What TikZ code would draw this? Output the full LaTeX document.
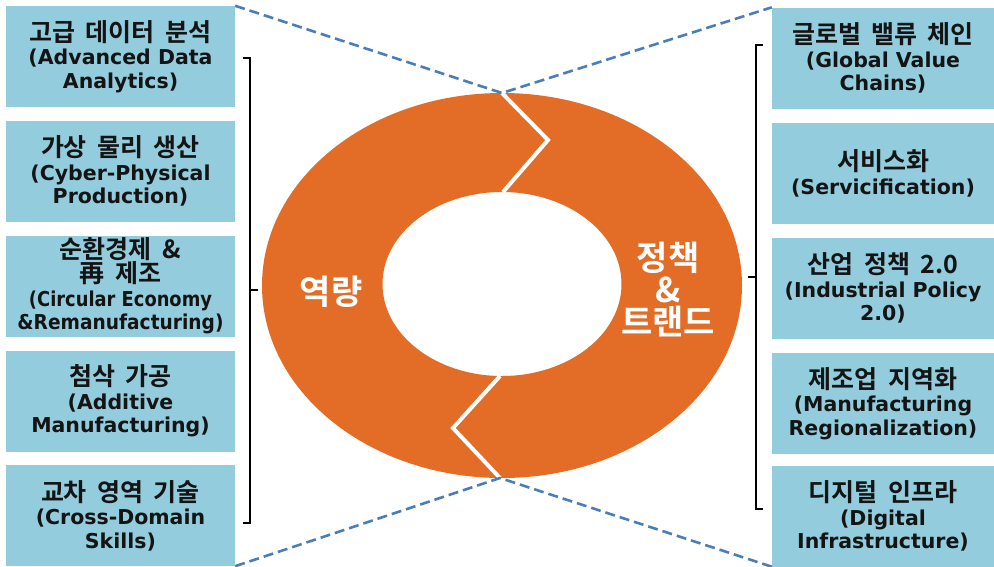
\documentclass[tikz,border=0pt]{standalone}
\usepackage{fontspec}
\usepackage{graphicx}
\newfontfamily\kr{Noto Sans CJK KR}[BoldFont={Noto Sans CJK KR Bold}]
\newfontfamily\lat{DejaVu Sans}
\definecolor{boxblue}{RGB}{147,205,221}
\definecolor{ringorange}{RGB}{227,108,38}
\definecolor{dashblue}{RGB}{74,126,187}
\definecolor{textdark}{RGB}{20,20,20}
\newcommand\ko[1]{{\kr\bfseries\fontsize{25}{23.6}\selectfont\spaceskip=0.42em #1}}
\newcommand\en[1]{{\lat\bfseries\fontsize{20.5}{23.6}\selectfont #1}}
\newcommand\cnd[2]{\resizebox{#1}{\height}{\lat\bfseries\fontsize{20.5}{23.6}\selectfont #2}}
\tikzset{
  itembox/.style={fill=boxblue, inner sep=0pt, minimum height=101pt, align=center,
    text=textdark, font=\fontsize{20.5}{23.6}\selectfont},
  leftbox/.style={itembox, minimum width=229pt},
  rightbox/.style={itembox, minimum width=222pt},
  guide/.style={draw=dashblue, line width=2.6pt, dash pattern=on 10pt off 5pt},
  splitline/.style={draw=white, line width=4pt},
  bracket/.style={draw=black, line width=2pt},
  ringtext/.style={text=white, align=center, font=\kr\bfseries\fontsize{34}{32}\selectfont},
}
\begin{document}
\begin{tikzpicture}[x=1pt,y=-1pt]
\useasboundingbox (0,0) rectangle (994,566);
% ring
\fill[ringorange, even odd rule] (502,285.5) ellipse [x radius=240pt, y radius=192.5pt]
  (502,284) ellipse [x radius=119.5pt, y radius=92pt];
\coordinate (rtop) at (502,93);
\coordinate (rtopmid) at (548,140);
\coordinate (rtopin) at (503,192);
\coordinate (rbotin) at (500,376);
\coordinate (rbotmid) at (453,428);
\coordinate (rbot) at (500,478);
\draw[splitline] (rtop) -- (rtopmid) -- (rtopin);
\draw[splitline] (rbotin) -- (rbotmid) -- (rbot);
\node[ringtext] (cap) at (331,292) {역량};
\node[ringtext] (pol) at (668,290) {정책\\\&\\트랜드};
% left boxes
\node[leftbox] (l1) at (120.5,56.5) {\ko{고급 데이터 분석}\\\en{(Advanced Data}\\\en{Analytics)}};
\node[leftbox] (l2) at (120.5,171) {\ko{가상 물리 생산}\\\en{(Cyber-Physical}\\\en{Production)}};
\node[leftbox] (l3) at (120.5,286) {\ko{순환경제 \&}\\\ko{再 제조}\\\cnd{183pt}{(Circular Economy}\\\cnd{206pt}{\&Remanufacturing)}};
\node[leftbox] (l4) at (120.5,401) {\ko{첨삭 가공}\\\en{(Additive}\\\en{Manufacturing)}};
\node[leftbox] (l5) at (120.5,515.5) {\ko{교차 영역 기술}\\\en{(Cross-Domain}\\\en{Skills)}};
% right boxes
\node[rightbox] (r1) at (883,58) {\ko{글로벌 밸류 체인}\\\en{(Global Value}\\\en{Chains)}};
\node[rightbox] (r2) at (883,173.5) {\ko{서비스화}\\\en{(Servicification)}};
\node[rightbox] (r3) at (883,288) {\ko{산업 정책 2.0}\\\en{(Industrial Policy}\\\en{2.0)}};
\node[rightbox] (r4) at (883,403.5) {\ko{제조업 지역화}\\\en{(Manufacturing}\\\en{Regionalization)}};
\node[rightbox] (r5) at (883,516) {\ko{디지털 인프라}\\\en{(Digital}\\\en{Infrastructure)}};
% dashed guides
\draw[guide] (l1.north east) -- (rtop) -- (r1.north west);
\draw[guide] (l5.south east) -- (rbot) -- (r5.south west);
% brackets
\draw[bracket] (243,58) -- (250,58) -- (250,523) -- (243,523);
\draw[bracket] (250,290) -- (258,290);
\draw[bracket] (763,45) -- (756,45) -- (756,509) -- (763,509);
\draw[bracket] (756,277) -- (748,277);
\end{tikzpicture}
\end{document}
